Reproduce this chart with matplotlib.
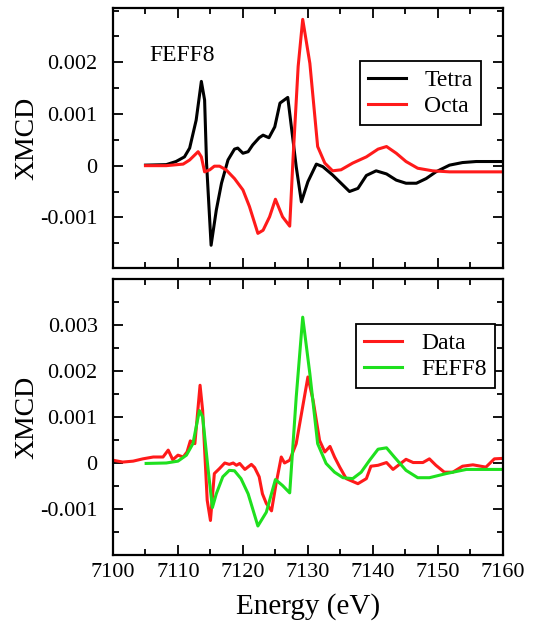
import matplotlib
matplotlib.use("Agg")
import matplotlib.pyplot as plt
from matplotlib.ticker import MultipleLocator, FixedLocator, FuncFormatter

plt.rcParams['font.family'] = ['Liberation Serif', 'DejaVu Serif']

# FEFF8 calculations, tetrahedral and octahedral sites
tetra_e = [7105.0, 7108.2, 7109.7, 7111.0, 7111.8, 7112.8, 7113.6, 7114.1, 7114.4,
           7115.1, 7115.9, 7116.7, 7117.7, 7118.7, 7119.2, 7120.0, 7120.8, 7121.5,
           7122.5, 7123.1, 7124.0, 7124.9, 7125.7, 7126.9, 7127.7, 7128.2, 7129.0,
           7130.0, 7131.3, 7132.3, 7133.8, 7136.4, 7137.7, 7139.0, 7140.5, 7142.1,
           7143.6, 7145.1, 7146.7, 7148.2, 7149.7, 7151.8, 7153.8, 7155.9, 7160.0]
tetra_v = [0.00001, 0.00002, 0.00008, 0.00017, 0.00034, 0.00088, 0.00163, 0.00127, 0.00005,
           -0.00154, -0.00086, -0.00034, 0.00011, 0.00032, 0.00034, 0.00024, 0.00027, 0.00040,
           0.00054, 0.00059, 0.00054, 0.00075, 0.00121, 0.00132, 0.00050, -0.00002, -0.00070,
           -0.00031, 0.00003, -0.00002, -0.00018, -0.00050, -0.00044, -0.00019, -0.00010, -0.00016,
           -0.00028, -0.00034, -0.00034, -0.00025, -0.00012, 0.00001, 0.00006, 0.00008, 0.00008]

octa_e = [7105.0, 7108.2, 7110.8, 7111.8, 7113.1, 7113.6, 7114.1, 7114.9, 7115.6,
          7116.4, 7117.4, 7118.7, 7120.0, 7121.0, 7122.3, 7123.1, 7124.1, 7125.0,
          7126.1, 7127.2, 7127.7, 7128.5, 7129.2, 7130.3, 7131.5, 7132.6, 7133.8,
          7135.1, 7136.9, 7139.0, 7140.8, 7142.1, 7143.6, 7145.1, 7146.9, 7149.2,
          7151.8, 7160.0]
octa_v = [0.0, 0.0, 0.00003, 0.00011, 0.00027, 0.00017, -0.00012, -0.00008, -0.00001,
          -0.00001, -0.00008, -0.00025, -0.00047, -0.00079, -0.00131, -0.00125, -0.00099, -0.00065,
          -0.00099, -0.00117, 0.00011, 0.00192, 0.00283, 0.00198, 0.00037, 0.00005, -0.00010,
          -0.00008, 0.00005, 0.00017, 0.00032, 0.00037, 0.00024, 0.00008, -0.00005, -0.00010,
          -0.00012, -0.00012]

# measured spectrum
data_e = [7100.0, 7101.5, 7103.1, 7104.6, 7106.2, 7107.7, 7108.5, 7109.2, 7110.0, 7110.8,
          7111.4, 7111.9, 7112.6, 7113.4, 7113.8, 7114.5, 7115.0, 7115.6, 7116.4, 7117.2,
          7117.9, 7118.5, 7119.0, 7119.5, 7120.3, 7121.3, 7121.8, 7122.5, 7123.0, 7123.6,
          7124.4, 7125.1, 7125.9, 7126.4, 7127.2, 7128.2, 7130.0, 7130.8, 7131.8, 7132.6,
          7133.4, 7134.1, 7134.9, 7135.9, 7137.7, 7139.0, 7139.7, 7140.8, 7142.1, 7143.1,
          7145.1, 7146.2, 7147.7, 7148.7, 7149.7, 7151.0, 7152.3, 7153.8, 7155.4, 7157.4,
          7158.7, 7160.0]
data_v = [0.00006, 0.00002, 0.00004, 0.00009, 0.00013, 0.00013, 0.00028, 0.00007, 0.00017, 0.00013,
          0.00024, 0.00048, 0.00042, 0.00169, 0.00114, -0.00081, -0.00125, -0.00023, -0.00012, 0.0,
          -0.00003, 0.0, -0.00005, -0.00001, -0.00014, -0.00003, -0.00010, -0.00030, -0.00067, -0.00088,
          -0.00104, -0.00045, 0.00013, 0.0, 0.00006, 0.00042, 0.00187, 0.00136, 0.00049, 0.00024,
          0.00036, 0.00013, -0.00009, -0.00034, -0.00045, -0.00034, -0.00007, -0.00005, 0.00001, -0.00014,
          0.00008, 0.00001, 0.00001, 0.00009, -0.00005, -0.00020, -0.00020, -0.00007, -0.00004, -0.00009,
          0.00009, 0.00010]

# weighted FEFF8 fit
feff_e = [7105.1, 7108.2, 7110.0, 7111.3, 7112.3, 7113.3, 7113.8, 7114.6, 7115.3, 7115.9,
          7116.9, 7117.9, 7118.7, 7119.7, 7120.8, 7122.3, 7123.6, 7125.0, 7126.1, 7127.2,
          7128.2, 7129.2, 7130.3, 7131.5, 7132.8, 7134.1, 7135.4, 7136.9, 7138.2, 7139.5,
          7140.8, 7142.1, 7143.3, 7145.1, 7146.9, 7148.7, 7151.3, 7154.4, 7160.0]
feff_v = [-0.00001, 0.0, 0.00004, 0.00017, 0.00042, 0.00114, 0.00100, -0.00009, -0.00097, -0.00067,
          -0.00030, -0.00016, -0.00017, -0.00034, -0.00067, -0.00137, -0.00107, -0.00036, -0.00049, -0.00065,
          0.00143, 0.00317, 0.00194, 0.00042, -0.00001, -0.00020, -0.00032, -0.00034, -0.00020, 0.00006,
          0.00030, 0.00033, 0.00013, -0.00016, -0.00032, -0.00032, -0.00023, -0.00014, -0.00014]

top_yticks = [-0.001, 0.0, 0.001, 0.002]
bot_yticks = [-0.001, 0.0, 0.001, 0.002, 0.003]
x_ticks = [7100, 7110, 7120, 7130, 7140, 7150, 7160]

RED = '#ff1a1a'
GREEN = '#1ee01e'


def fmt_y(v, pos):
    if abs(v) < 1e-9:
        return '0'
    return f'{v:.3f}'


def style_axes(ax, ylim, yticks):
    ax.set_xlim(7100, 7160)
    ax.set_ylim(*ylim)
    ax.xaxis.set_major_locator(FixedLocator(x_ticks))
    ax.xaxis.set_minor_locator(MultipleLocator(5))
    ax.yaxis.set_major_locator(FixedLocator(yticks))
    ax.yaxis.set_minor_locator(MultipleLocator(0.0005))
    ax.yaxis.set_major_formatter(FuncFormatter(fmt_y))
    ax.tick_params(which='both', direction='in', top=True, right=True,
                   width=1.3, labelsize=16)
    ax.tick_params(axis='y', which='major', pad=11)
    ax.tick_params(axis='x', which='major', pad=6)
    ax.tick_params(which='major', length=7)
    ax.tick_params(which='minor', length=4)
    for s in ax.spines.values():
        s.set_linewidth(1.6)
    ax.set_ylabel('XMCD', fontsize=20, labelpad=0.5)


def add_legend(ax, anchor):
    leg = ax.legend(loc='upper right', bbox_to_anchor=anchor, borderaxespad=0,
                    fontsize=17, fancybox=False, edgecolor='black', framealpha=1,
                    handlelength=1.6, handletextpad=0.8, borderpad=0.35,
                    labelspacing=0.2)
    leg.get_frame().set_linewidth(1.3)


fig = plt.figure(figsize=(5.34, 6.24), dpi=100)
ax_top = fig.add_axes([0.2116, 0.5705, 0.730, 0.4167])
ax_bot = fig.add_axes([0.2116, 0.1106, 0.730, 0.4423])

ax_top.plot(tetra_e, tetra_v, color='black', lw=2.2, label='Tetra')
ax_top.plot(octa_e, octa_v, color=RED, lw=2.2, label='Octa')
style_axes(ax_top, (-0.00198, 0.00305), top_yticks)
ax_top.tick_params(labelbottom=False)
ax_top.text(7105.6, 0.00214, 'FEFF8', fontsize=17, va='center', ha='left')
add_legend(ax_top, (0.944, 0.796))

ax_bot.plot(data_e, data_v, color=RED, lw=2.2, label='Data')
ax_bot.plot(feff_e, feff_v, color=GREEN, lw=2.2, label='FEFF8')
style_axes(ax_bot, (-0.002, 0.004), bot_yticks)
ax_bot.set_xlabel('Energy (eV)', fontsize=21, labelpad=8)
add_legend(ax_bot, (0.979, 0.837))

fig.savefig('out.png', dpi=100)
